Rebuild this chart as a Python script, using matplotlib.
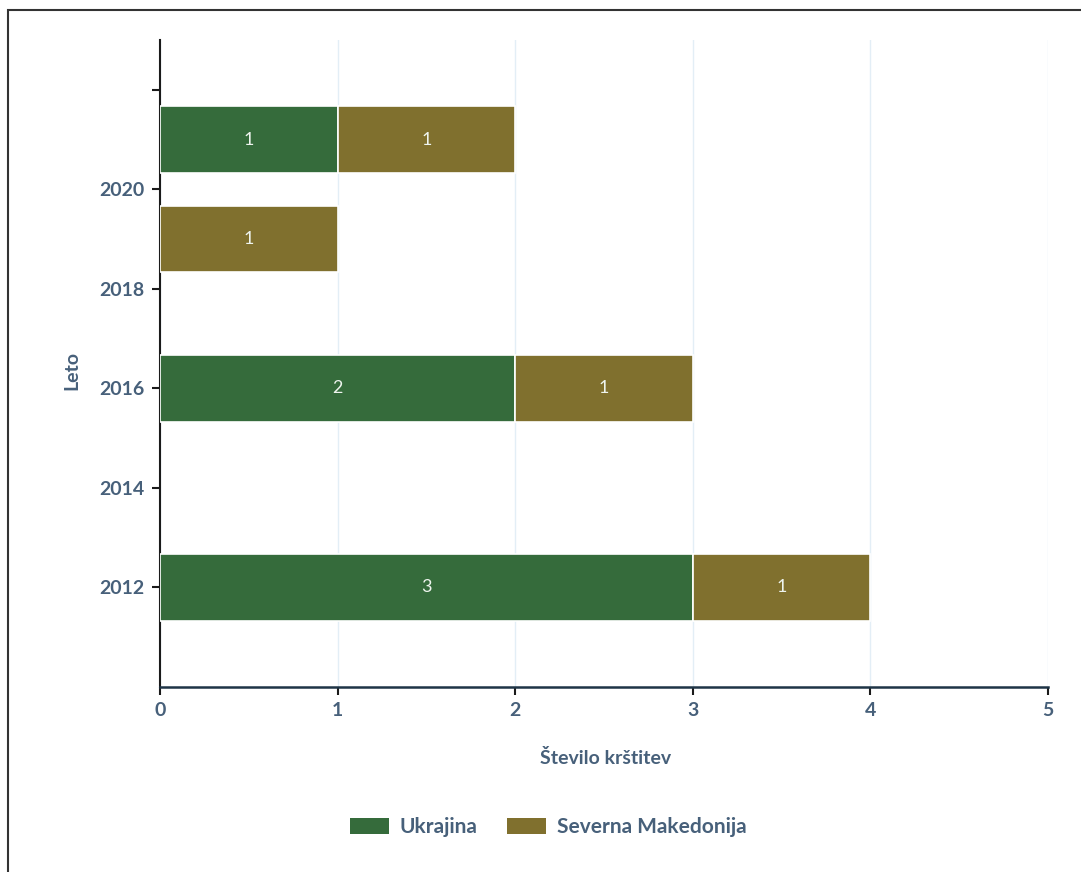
import matplotlib
matplotlib.use("Agg")
import matplotlib.pyplot as plt
from matplotlib.patches import Rectangle, Patch

years = [2012, 2016, 2019, 2021]
ukrajina = [3, 2, 0, 1]
severna_makedonija = [1, 1, 1, 1]
series_names = ["Ukrajina", "Severna Makedonija"]
colors = ["#356b3b", "#80702e"]
ytick_vals = [2012, 2014, 2016, 2018, 2020, 2022]
ytick_labels = ["2012", "2014", "2016", "2018", "2020", ""]
xticks = [0, 1, 2, 3, 4, 5]

text_col = "#47607a"
plt.rcParams['font.family'] = ['Lato', 'DejaVu Sans']

fig = plt.figure(figsize=(10.81, 8.72), dpi=100)
ax = fig.add_axes([160/1081, 1-687/872, (1048-160)/1081, (687-40)/872])

h = 1.34
lefts = [0]*len(years)
for vals, col in zip([ukrajina, severna_makedonija], colors):
    ax.barh(years, vals, left=lefts, height=h, color=col,
            edgecolor="white", linewidth=1.2, zorder=3)
    for y, v, l in zip(years, vals, lefts):
        if v > 0:
            ax.text(l + v/2, y, str(v), ha="center", va="center",
                    color="#eef4ee", fontsize=13, zorder=4)
    lefts = [a + b for a, b in zip(lefts, vals)]

ax.set_xlim(0, 5)
ax.set_ylim(2010, 2023)
ax.set_xticks(xticks)
ax.set_yticks(ytick_vals)
ax.set_yticklabels(ytick_labels)
ax.grid(axis="x", color="#e3eef6", linewidth=1, zorder=0)
for s in ["top", "right"]:
    ax.spines[s].set_visible(False)
ax.spines["left"].set_color("#1a1a1a")
ax.spines["bottom"].set_color("#1e3446")
ax.spines["left"].set_linewidth(1.5)
ax.spines["bottom"].set_linewidth(1.8)
ax.tick_params(axis="both", colors="#1a1a1a", length=6, width=1.5,
               labelcolor=text_col, labelsize=14)
for lab in ax.get_xticklabels() + ax.get_yticklabels():
    lab.set_fontweight("bold")
ax.tick_params(axis="x", pad=5)
ax.tick_params(axis="y", pad=5)

fig.text(72/1081, 1-370/872, "Leto", rotation=90, ha="center", va="center",
         color=text_col, fontsize=14, fontweight="bold")
fig.text(606/1081, 1-758/872, "Število krštitev", ha="center", va="center",
         color=text_col, fontsize=14, fontweight="bold")

handles = [Patch(facecolor=c, edgecolor="none") for c in colors]
leg = fig.legend(handles, series_names, loc="center", bbox_to_anchor=(548/1081, 1-827/872),
                 ncol=2, frameon=False, fontsize=15, handlelength=1.9, handleheight=0.8,
                 columnspacing=1.4, handletextpad=0.5, labelcolor=text_col)
for t in leg.get_texts():
    t.set_fontweight("bold")

fig.patches.append(Rectangle((8/1081, -0.1), 1.2, 1-10/872 + 0.1,
                             transform=fig.transFigure, fill=False,
                             edgecolor="#333333", linewidth=1.5))

fig.savefig("out.png", dpi=100)
